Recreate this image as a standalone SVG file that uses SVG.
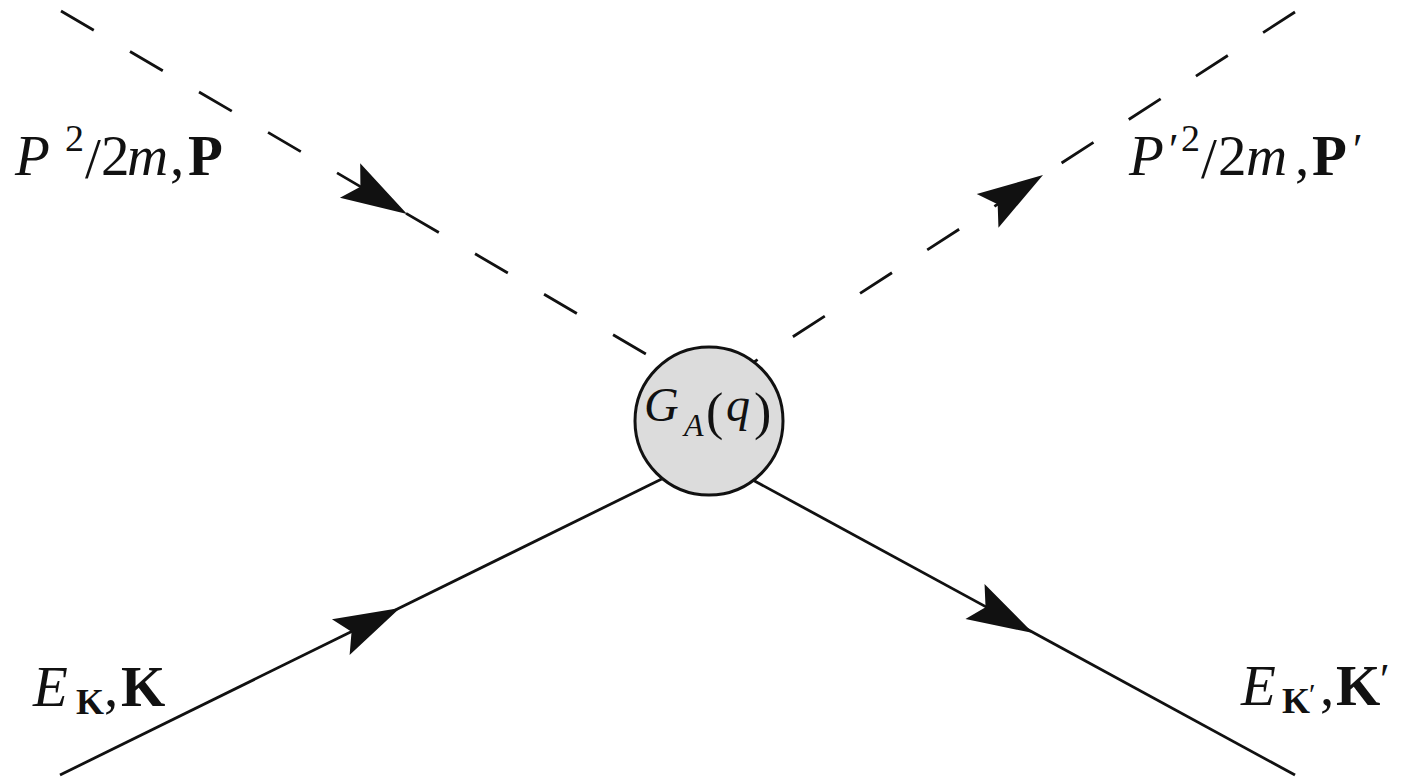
<svg xmlns="http://www.w3.org/2000/svg" width="1408" height="781" viewBox="0 0 1408 781">
  <style>
    .line { fill: none; stroke: #111; stroke-width: 2.8; }
    .scalar { stroke-dasharray: 38 42; }
    .arrow { fill: #111; stroke: none; }
    text { font-family: "Liberation Serif", "DejaVu Serif", serif; fill: #111; }
    .it { font-style: italic; }
    .bf { font-weight: bold; }
  </style>
  <defs>
    <!-- stealth-style arrowhead, tip at the origin, pointing along +x -->
    <path id="head" class="arrow" d="M0,0 L-66,-20 L-54,0 L-66,20 Z"/>
  </defs>

  <rect width="1408" height="781" fill="#fff"/>

  <!-- propagators -->
  <g id="connectors">
    <line id="p-in" class="line scalar" x1="61" y1="11" x2="680" y2="374"/>
    <line id="p-out" class="line scalar" x1="1295" y1="12" x2="740" y2="371"/>
    <line id="k-in" class="line" x1="60" y1="775" x2="680" y2="470"/>
    <line id="k-out" class="line" x1="1295" y1="775" x2="740" y2="473"/>
    <use href="#head" transform="translate(407,214) rotate(30.4)"/>
    <use href="#head" transform="translate(1043,175) rotate(-32.9)"/>
    <use href="#head" transform="translate(400,608) rotate(-26.2)"/>
    <use href="#head" transform="translate(1033,633) rotate(28.5)"/>
  </g>

  <!-- interaction vertex -->
  <g id="vertex">
    <circle cx="709" cy="421" r="74" fill="#dcdcdc" stroke="#111" stroke-width="3"/>
    <text y="421" font-size="48"><tspan class="it" x="644">G</tspan><tspan class="it" x="684" y="436" font-size="32">A</tspan><tspan x="706" y="429" font-size="52">(</tspan><tspan class="it" x="726" y="421">q</tspan><tspan x="754" y="429" font-size="52">)</tspan></text>
  </g>

  <!-- incoming scalar label -->
  <g id="label-p-in">
    <text y="175" font-size="57"><tspan class="it" x="15">P</tspan><tspan x="65" y="151" font-size="38">2</tspan><tspan x="85" y="178">/</tspan><tspan x="101" y="175">2</tspan><tspan class="it" x="127">m</tspan><tspan x="170">,</tspan><tspan class="bf" x="188">P</tspan></text>
  </g>

  <!-- outgoing scalar label -->
  <g id="label-p-out">
    <text y="175" font-size="57"><tspan class="it" x="1129">P</tspan><tspan x="1169" y="164" font-size="44">′</tspan><tspan x="1181" y="151" font-size="38">2</tspan><tspan x="1201" y="178">/</tspan><tspan x="1218" y="175">2</tspan><tspan class="it" x="1246">m</tspan><tspan x="1295">,</tspan><tspan class="bf" x="1312">P</tspan><tspan x="1353" y="164" font-size="44">′</tspan></text>
  </g>

  <!-- incoming fermion label -->
  <g id="label-k-in">
    <text y="706" font-size="57"><tspan class="it" x="33">E</tspan><tspan class="bf" x="76" y="714" font-size="36">K</tspan><tspan x="104" y="706">,</tspan><tspan class="bf" x="121">K</tspan></text>
  </g>

  <!-- outgoing fermion label -->
  <g id="label-k-out">
    <text y="705" font-size="57"><tspan class="it" x="1241">E</tspan><tspan class="bf" x="1282" y="713" font-size="36">K</tspan><tspan x="1309" y="704" font-size="30">′</tspan><tspan x="1320" y="705">,</tspan><tspan class="bf" x="1336">K</tspan><tspan x="1380" y="694" font-size="44">′</tspan></text>
  </g>
</svg>
